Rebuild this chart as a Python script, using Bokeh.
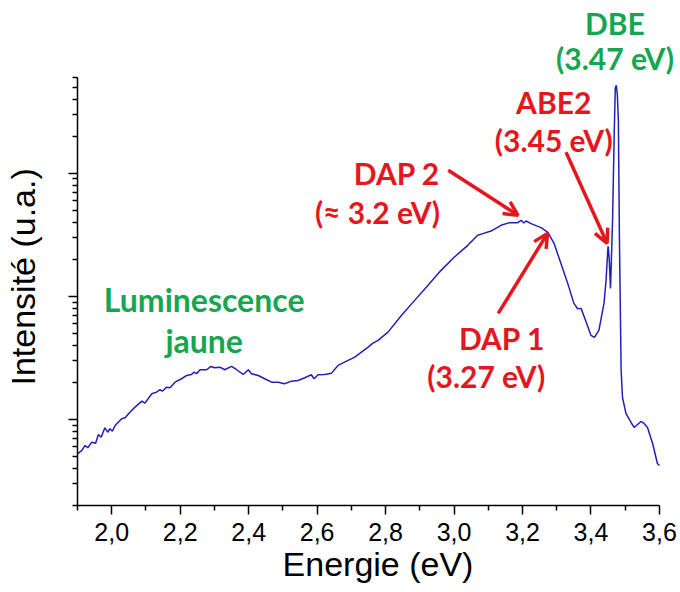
from bokeh.plotting import figure
from bokeh.models import Range1d, FixedTicker, Label, Arrow, OpenHead
from bokeh.embed import file_html
from bokeh.resources import INLINE

# ---- data ----
energy_ev = [
    1.900, 1.913, 1.922, 1.930, 1.942, 1.953, 1.961, 1.969, 1.980, 1.988,
    1.995, 2.002, 2.010, 2.029, 2.039, 2.053, 2.068, 2.088, 2.097, 2.117,
    2.131, 2.141, 2.148, 2.160, 2.170, 2.185, 2.204, 2.219, 2.233, 2.241,
    2.248, 2.258, 2.277, 2.290, 2.301, 2.316, 2.330, 2.350, 2.365, 2.384,
    2.399, 2.408, 2.428, 2.447, 2.467, 2.486, 2.505, 2.525, 2.544, 2.564,
    2.583, 2.591, 2.603, 2.622, 2.642, 2.661, 2.680, 2.710, 2.749, 2.763,
    2.778, 2.807, 2.846, 2.885, 2.924, 2.962, 3.001, 3.040, 3.069, 3.084,
    3.108, 3.137, 3.162, 3.186, 3.196, 3.204, 3.210, 3.225, 3.254, 3.274,
    3.292, 3.312, 3.332, 3.350, 3.361, 3.371, 3.381, 3.400, 3.410, 3.423,
    3.438, 3.444, 3.449, 3.450, 3.453, 3.457, 3.463, 3.468, 3.471, 3.474,
    3.477, 3.480, 3.483, 3.488, 3.492, 3.502, 3.517, 3.526, 3.536, 3.546,
    3.555, 3.565, 3.580, 3.594, 3.600,
]
intensity = [
    0.526, 0.560, 0.615, 0.589, 0.654, 0.642, 0.755, 0.718, 0.856, 0.788,
    0.840, 0.803, 0.894, 1.013, 1.032, 1.146, 1.259, 1.409, 1.357, 1.618,
    1.667, 1.744, 1.698, 1.830, 1.810, 2.010, 2.142, 2.278, 2.322, 2.425,
    2.353, 2.535, 2.535, 2.697, 2.632, 2.662, 2.535, 2.697, 2.535, 2.322,
    2.535, 2.353, 2.278, 2.142, 2.010, 2.010, 1.951, 2.048, 2.075, 2.183,
    2.308, 2.142, 2.308, 2.322, 2.379, 2.748, 2.923, 3.210, 3.872, 4.171,
    4.387, 5.126, 7.005, 9.28, 12.29, 16.27, 20.87, 25.98, 31.33, 32.34,
    33.96, 37.78, 39.72, 39.72, 41.50, 39.43, 40.95, 39.0, 36.2, 33.1,
    26.97, 18.55, 12.75, 8.77, 7.94, 7.99, 6.75, 4.82, 4.64, 5.29,
    8.77, 13.49, 23.66, 25.5, 20.75, 11.61, 41.5, 224.0, 494.0, 519.0,
    431.0, 270.0, 30.2, 2.50, 1.51, 1.12, 0.945, 0.861, 0.911, 0.963,
    0.928, 0.861, 0.638, 0.439, 0.423,
]

x_ticks = [2.0, 2.2, 2.4, 2.6, 2.8, 3.0, 3.2, 3.4, 3.6]
x_tick_labels = ["2,0", "2,2", "2,4", "2,6", "2,8", "3,0", "3,2", "3,4", "3,6"]
x_minor_ticks = [1.9, 2.1, 2.3, 2.5, 2.7, 2.9, 3.1, 3.3, 3.5]
x_axis_bounds = (1.9, 3.6)
y_major_ticks = [1, 10, 100]
y_minor_ticks = [0.2, 0.3, 0.4, 0.5, 0.6, 0.7, 0.8, 0.9,
                 2, 3, 4, 5, 6, 7, 8, 9,
                 20, 30, 40, 50, 60, 70, 80, 90,
                 200, 300, 400, 500, 600]
y_axis_bounds = (0.2, 600)

# annotations: (text, x, y, align, colour, size)
RED = "#E3171D"
GREEN = "#17A650"
annotations = [
    ("DBE", 3.470, 1375, "center", GREEN, "30px"),
    ("(3.47 eV)", 3.470, 714, "center", GREEN, "30px"),
    ("ABE2", 3.291, 315, "center", RED, "30px"),
    ("(3.45 eV)", 3.291, 153.8, "center", RED, "30px"),
    ("DAP 2", 2.959, 83.4, "right", RED, "30px"),
    ("(\u2248 3.2 eV)", 2.959, 40.2, "right", RED, "30px"),
    ("Luminescence", 2.270, 7.79, "center", GREEN, "32px"),
    ("jaune", 2.270, 3.64, "center", GREEN, "32px"),
    ("DAP 1", 3.266, 3.80, "right", RED, "30px"),
    ("(3.27 eV)", 3.266, 1.855, "right", RED, "30px"),
]
# arrows: (x_start, y_start, x_end, y_end)
arrows = [
    (2.983, 105.7, 3.187, 45.6),   # DAP 2
    (3.129, 7.27, 3.273, 32.5),    # DAP 1
    (3.327, 148.0, 3.447, 27.0),   # ABE2
]

p = figure(width=680, height=592, y_axis_type="log",
           x_range=Range1d(1.9, 3.6556), y_range=Range1d(0.2, 2102),
           output_backend="svg", toolbar_location=None,
           min_border_left=76, min_border_right=2,
           min_border_top=10, min_border_bottom=87)
p.outline_line_color = None
p.grid.grid_line_color = None
p.background_fill_color = "white"
p.border_fill_color = "white"

p.line(energy_ev, intensity, line_color="#2020B8", line_width=1.5)

# axes
for ax in (p.xaxis[0], p.yaxis[0]):
    ax.axis_line_color = "black"
    ax.axis_line_width = 1.5
    ax.major_tick_line_color = "black"
    ax.minor_tick_line_color = "black"
    ax.major_tick_line_width = 1.5
    ax.minor_tick_line_width = 1.5
    ax.major_tick_out = 9
    ax.major_tick_in = 0
    ax.minor_tick_out = 5
    ax.minor_tick_in = 0
    ax.axis_label_text_font = "Liberation Sans"
    ax.axis_label_text_font_style = "normal"
    ax.axis_label_text_font_size = "34px"
    ax.axis_label_text_color = "black"
    ax.major_label_text_font = "Liberation Sans"
    ax.major_label_text_color = "black"

p.xaxis.bounds = x_axis_bounds
p.xaxis.ticker = FixedTicker(ticks=x_ticks, minor_ticks=x_minor_ticks)
p.xaxis.major_label_overrides = dict(zip(x_ticks, x_tick_labels))
p.xaxis.major_label_text_font_size = "25px"
p.xaxis.major_label_standoff = 8
p.xaxis.axis_label = "Energie (eV)"
p.xaxis.axis_label_standoff = 1

p.yaxis.bounds = y_axis_bounds
p.yaxis.ticker = FixedTicker(ticks=y_major_ticks, minor_ticks=y_minor_ticks)
p.yaxis.major_label_overrides = {t: "" for t in y_major_ticks}
p.yaxis.major_label_text_font_size = "10px"
p.yaxis.major_label_standoff = 0
# trailing no-break spaces move the rotated title down to sit centred on the drawn axis
p.yaxis.axis_label = "Intensit\u00e9 (u.a.)" + "\u00a0" * 4
p.yaxis.axis_label_standoff = 27

for text, x, y, align, col, size in annotations:
    p.add_layout(Label(x=x, y=y, y_offset=10, text=text, text_align=align,
                       text_baseline="alphabetic", text_color=col,
                       text_font="Lato", text_font_style="bold",
                       text_font_size=size))

for xs, ys, xe, ye in arrows:
    p.add_layout(Arrow(x_start=xs, y_start=ys, x_end=xe, y_end=ye,
                       line_color=RED, line_width=3.5,
                       end=OpenHead(line_color=RED, line_width=3.5, size=14)))

open("out.html", "w").write(file_html(p, INLINE))
